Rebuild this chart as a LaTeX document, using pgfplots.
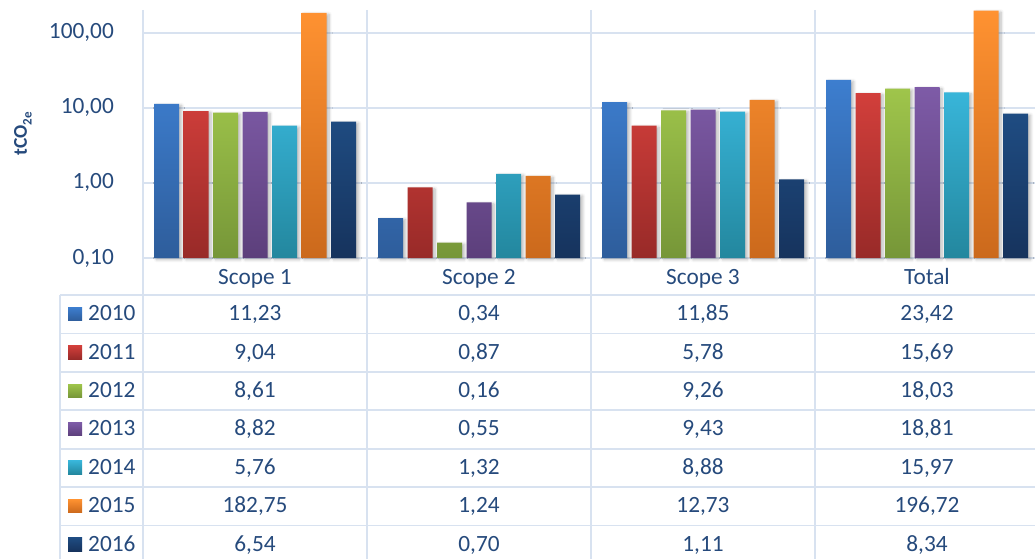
\documentclass[border=0pt]{standalone}
\usepackage{pgfplots}
\pgfplotsset{compat=1.18}
\usepackage{pgfplotstable}
\usepackage{fontspec}
\setmainfont{Carlito}
\usetikzlibrary{shadows.blur}

\definecolor{txt}{HTML}{264A7C}
\definecolor{gridc}{HTML}{D8E2F0}
% two-tone bar fills (top / bottom)
\definecolor{aT}{HTML}{3D7ECF}\definecolor{aB}{HTML}{2E5D9B}
\definecolor{bT}{HTML}{D23F3B}\definecolor{bB}{HTML}{982A28}
\definecolor{cT}{HTML}{9FC54B}\definecolor{cB}{HTML}{769638}
\definecolor{dT}{HTML}{7E5BA7}\definecolor{dB}{HTML}{5C3F7B}
\definecolor{eT}{HTML}{38B5D9}\definecolor{eB}{HTML}{23879E}
\definecolor{fT}{HTML}{FF9231}\definecolor{fB}{HTML}{CB691C}
\definecolor{gT}{HTML}{1F4C82}\definecolor{gB}{HTML}{16335D}

% emissions in tCO2e, one row per scope
\pgfplotstableread{
x y2010 y2011 y2012 y2013 y2014 y2015 y2016
0 11.23 9.04 8.61 8.82 5.76 182.75 6.54
1 0.34 0.87 0.16 0.55 1.32 1.24 0.70
2 11.85 5.78 9.26 9.43 8.88 12.73 1.11
3 23.42 15.69 18.03 18.81 15.97 196.72 8.34
}\emissions

\newcommand{\lbl}{\fontsize{23.3}{28}\selectfont}
\tikzset{barshadow/.style={blur shadow={shadow xshift=2.5pt, shadow yshift=-1.5pt,
  shadow blur radius=3pt, shadow blur steps=6, shadow opacity=28}}}

\begin{document}
\begin{tikzpicture}
\path[use as bounding box, clip] (0pt,0pt) rectangle (1035pt,558pt);

% data table rules
\begin{scope}[x=1pt, y=1pt, draw=gridc, line width=1.8pt]
  \foreach \k in {0,...,7} \draw (60,263-38.4*\k) -- (1045,263-38.4*\k);
  \draw (60,263) -- (60,-10);
  \foreach \xv in {143,367,591,815,1039} \draw (\xv,548) -- (\xv,-10);
\end{scope}

\begin{axis}[
  at={(143pt,300pt)}, anchor=south west,
  scale only axis, width=896pt, height=248pt,
  xmin=-0.5, xmax=3.5,
  ymode=log, ymin=0.1, ymax=200, log origin=infty,
  ybar=4.5pt, bar width=25pt,
  clip=false,
  axis line style={draw=none},
  tick style={draw=none},
  ymajorgrids, grid style={gridc, line width=1.8pt},
  ytick={0.1,1,10,100},
  yticklabels={{0,10},{1,00},{10,00},{100,00}},
  xtick={0,1,2,3},
  xticklabels={Scope 1,Scope 2,Scope 3,Total},
  yticklabel style={font=\lbl, text=txt, inner sep=0pt, anchor=east, xshift=-29pt},
  xticklabel style={font=\lbl, text=txt, inner sep=0pt, anchor=base, yshift=-22pt},
  every axis plot/.append style={draw=none, barshadow},
]
\addplot[top color=aT, bottom color=aB] table[x=x,y=y2010]{\emissions};
\addplot[top color=bT, bottom color=bB] table[x=x,y=y2011]{\emissions};
\addplot[top color=cT, bottom color=cB] table[x=x,y=y2012]{\emissions};
\addplot[top color=dT, bottom color=dB] table[x=x,y=y2013]{\emissions};
\addplot[top color=eT, bottom color=eB] table[x=x,y=y2014]{\emissions};
\addplot[top color=fT, bottom color=fB] table[x=x,y=y2015]{\emissions};
\addplot[top color=gT, bottom color=gB] table[x=x,y=y2016]{\emissions};
\end{axis}

\begin{scope}[x=1pt, y=1pt]
% axis title
\node[rotate=90, anchor=base, inner sep=0pt, text=txt,
      font=\fontsize{19.5}{22}\selectfont\bfseries] at (27,424.5)
  {tCO\raisebox{-4.5pt}{\fontsize{13}{13}\selectfont 2e}};

% table body: legend keys, years and values
\foreach \yr/\ct/\cb [count=\i from 0] in
  {2010/aT/aB,2011/bT/bB,2012/cT/cB,2013/dT/dB,2014/eT/eB,2015/fT/fB,2016/gT/gB} {
  \pgfmathsetmacro\yb{237.3-38.4*\i}
  \shade[top color=\ct, bottom color=\cb] (68,\yb) rectangle ++(14,13.5);
  \node[anchor=base west, inner sep=0pt, text=txt, font=\lbl] at (88,\yb) {\yr};
  \foreach \j in {0,1,2,3} {
    \pgfplotstablegetelem{\j}{y\yr}\of\emissions
    \pgfmathsetmacro\xc{255+224*\j}
    \node[anchor=base, inner sep=0pt, text=txt, font=\lbl] at (\xc,\yb)
      {\pgfmathprintnumber[fixed,fixed zerofill,precision=2,use comma,assume math mode=true]{\pgfplotsretval}};
  }
}
\end{scope}
\end{tikzpicture}
\end{document}
